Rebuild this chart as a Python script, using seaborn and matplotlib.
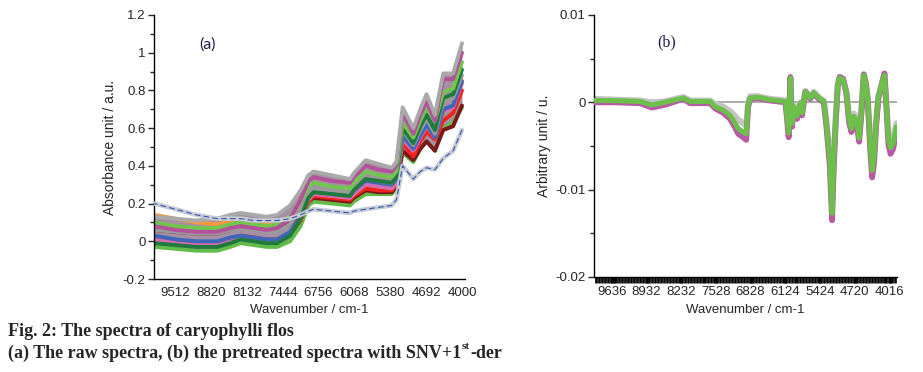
import numpy as np
import pandas as pd
import matplotlib
matplotlib.use("Agg")
import matplotlib.pyplot as plt
import seaborn as sns
from matplotlib.ticker import MultipleLocator

# ---- (a) raw spectra ----
wn_a = [9910, 9500, 9100, 8700, 8450, 8250, 8000, 7750, 7550, 7300, 7100, 6950, 6850, 6500,
        6150, 6080, 5850, 5600, 5350, 5260, 5140, 4935, 4800, 4680, 4520, 4360, 4170, 4000]

grey_top = [0.13, 0.12, 0.11, 0.12, 0.14, 0.15, 0.14, 0.13, 0.14, 0.19, 0.27, 0.35, 0.37, 0.35,
            0.33, 0.36, 0.43, 0.41, 0.39, 0.42, 0.71, 0.60, 0.70, 0.78, 0.67, 0.89, 0.89, 1.05]
orange = [0.14, 0.12, 0.10, 0.09, 0.11, 0.12, 0.11, 0.10, 0.10, 0.13, 0.18, 0.24, 0.26, 0.25,
          0.24, 0.26, 0.30, 0.29, 0.28, 0.31, 0.54, 0.47, 0.55, 0.60, 0.54, 0.69, 0.71, 0.84]
magenta = [0.08, 0.06, 0.05, 0.05, 0.07, 0.08, 0.07, 0.06, 0.07, 0.12, 0.22, 0.32, 0.34, 0.32,
           0.31, 0.34, 0.40, 0.38, 0.37, 0.40, 0.68, 0.57, 0.67, 0.74, 0.64, 0.86, 0.86, 1.00]
green_up = [0.10, 0.08, 0.07, 0.07, 0.09, 0.10, 0.09, 0.08, 0.09, 0.13, 0.21, 0.29, 0.31, 0.29,
            0.28, 0.31, 0.37, 0.35, 0.34, 0.37, 0.63, 0.55, 0.64, 0.71, 0.64, 0.79, 0.81, 0.95]
dark_green = [-0.01, -0.02, -0.03, -0.03, -0.01, 0.01, 0.00, -0.01, -0.01, 0.03, 0.12, 0.23, 0.26, 0.25,
              0.24, 0.27, 0.33, 0.32, 0.31, 0.34, 0.60, 0.52, 0.61, 0.67, 0.59, 0.76, 0.78, 0.91]
grey_mid = [0.06, 0.05, 0.04, 0.04, 0.06, 0.07, 0.06, 0.05, 0.05, 0.09, 0.17, 0.26, 0.28, 0.27,
            0.26, 0.28, 0.34, 0.32, 0.31, 0.34, 0.59, 0.51, 0.59, 0.65, 0.57, 0.74, 0.76, 0.88]
blue = [0.03, 0.01, 0.00, 0.00, 0.02, 0.03, 0.02, 0.01, 0.01, 0.05, 0.13, 0.24, 0.27, 0.26,
        0.25, 0.27, 0.32, 0.31, 0.30, 0.33, 0.56, 0.49, 0.56, 0.62, 0.55, 0.70, 0.72, 0.85]
pink = [0.01, -0.01, -0.02, -0.02, 0.00, 0.02, 0.01, 0.00, 0.00, 0.04, 0.12, 0.22, 0.25, 0.24,
        0.23, 0.25, 0.30, 0.29, 0.28, 0.31, 0.54, 0.48, 0.55, 0.61, 0.55, 0.69, 0.71, 0.84]
red = [0.02, 0.00, -0.01, -0.01, 0.01, 0.03, 0.02, 0.01, 0.01, 0.04, 0.11, 0.21, 0.24, 0.23,
       0.22, 0.24, 0.28, 0.27, 0.27, 0.30, 0.52, 0.45, 0.53, 0.58, 0.54, 0.64, 0.68, 0.80]
maroon = [0.06, 0.05, 0.04, 0.04, 0.06, 0.08, 0.07, 0.06, 0.06, 0.09, 0.15, 0.21, 0.23, 0.22,
          0.21, 0.23, 0.27, 0.26, 0.26, 0.29, 0.48, 0.43, 0.49, 0.53, 0.48, 0.59, 0.61, 0.72]
green_low = [-0.03, -0.04, -0.05, -0.05, -0.03, -0.01, -0.02, -0.03, -0.03, 0.00, 0.08, 0.19, 0.21, 0.20,
             0.19, 0.21, 0.25, 0.25, 0.25, 0.28, 0.47, 0.42, 0.49, 0.53, 0.48, 0.60, 0.63, 0.71]
outlier = [0.20, 0.17, 0.14, 0.12, 0.12, 0.12, 0.11, 0.11, 0.11, 0.12, 0.14, 0.16, 0.17, 0.16,
           0.15, 0.16, 0.17, 0.18, 0.19, 0.22, 0.40, 0.33, 0.37, 0.39, 0.38, 0.44, 0.48, 0.59]

xticks_a = [9512, 8820, 8132, 7444, 6756, 6068, 5380, 4692, 4000]
yticks_a = [-0.2, 0, 0.2, 0.4, 0.6, 0.8, 1.0, 1.2]
ylabels_a = ["-0.2", "0", "0.2", "0.4", "0.6", "0.8", "1", "1.2"]

# ---- (b) SNV + 1st derivative ----
wn_b = [9994, 9567, 9067, 8827, 8567, 8190, 8051, 7646, 7545, 7383, 7241, 7140, 7079, 6978,
        6917, 6877, 6836, 6695, 6432, 6125, 6091, 6058, 6024, 5990, 5957, 5889, 5821, 5788,
        5720, 5619, 5551, 5450, 5349, 5295, 5227, 5180, 5147, 5106, 5065, 5025, 4958, 4890,
        4836, 4789, 4741, 4687, 4633, 4593, 4539, 4499, 4458, 4411, 4370, 4330, 4289, 4242,
        4188, 4121, 4080, 4040, 3999, 3945, 3878]
green_b = [0.0002, 0.0002, 0.0001, -0.0003, 0.0000, 0.0005, 0.0001, 0.0001, -0.0005, -0.0009,
           -0.0015, -0.0024, -0.0030, -0.0034, -0.0036, -0.0003, 0.0005, 0.0006, 0.0003, 0.0001,
           -0.0016, -0.0035, 0.0028, -0.0024, -0.0005, -0.0016, -0.0001, -0.0012, 0.0012, 0.0005,
           0.0011, 0.0005, 0.0001, -0.0024, -0.0066, -0.0127, -0.0070, -0.0020, 0.0020, 0.0028,
           0.0026, 0.0011, -0.0020, -0.0030, -0.0016, -0.0020, -0.0041, -0.0016, 0.0031, 0.0022,
           0.0003, -0.0047, -0.0078, -0.0063, -0.0024, 0.0006, 0.0018, 0.0031, -0.0005, -0.0043,
           -0.0052, -0.0047, -0.0028]
magenta_b = [0.0000, 0.0000, -0.0001, -0.0006, -0.0003, 0.0004, -0.0001, -0.0001, -0.0007, -0.0012,
             -0.0019, -0.0029, -0.0036, -0.0040, -0.0043, -0.0005, 0.0004, 0.0005, 0.0002, 0.0000,
             -0.0019, -0.0040, 0.0029, -0.0028, -0.0007, -0.0019, -0.0003, -0.0015, 0.0012, 0.0004,
             0.0010, 0.0004, 0.0000, -0.0027, -0.0072, -0.0135, -0.0076, -0.0023, 0.0019, 0.0029,
             0.0027, 0.0010, -0.0023, -0.0034, -0.0019, -0.0023, -0.0045, -0.0018, 0.0032, 0.0022,
             0.0001, -0.0052, -0.0086, -0.0069, -0.0027, 0.0005, 0.0017, 0.0033, -0.0007, -0.0048,
             -0.0059, -0.0053, -0.0032]
grey_b = [0.0004, 0.0003, 0.0002, 0.0000, 0.0001, 0.0006, 0.0002, 0.0002, -0.0002, -0.0005,
          -0.0010, -0.0016, -0.0020, -0.0024, -0.0027, 0.0000, 0.0007, 0.0007, 0.0004, 0.0002,
          -0.0013, -0.0030, 0.0027, -0.0020, -0.0003, -0.0013, 0.0000, -0.0009, 0.0013, 0.0006,
          0.0012, 0.0006, 0.0002, -0.0021, -0.0060, -0.0120, -0.0064, -0.0017, 0.0021, 0.0029,
          0.0027, 0.0012, -0.0017, -0.0026, -0.0013, -0.0017, -0.0037, -0.0013, 0.0032, 0.0023,
          0.0005, -0.0042, -0.0072, -0.0057, -0.0020, 0.0008, 0.0019, 0.0033, -0.0002, -0.0038,
          -0.0046, -0.0042, -0.0024]

xticks_b = [9636, 8932, 8232, 7528, 6828, 6124, 5424, 4720, 4016]
yticks_b = [-0.02, -0.01, 0, 0.01]
ylabels_b = ["-0.02", "-0.01", "0", "0.01"]

sns.set_style("white")
plt.rcParams["font.family"] = ["Liberation Sans", "DejaVu Sans"]
plt.rcParams["axes.unicode_minus"] = False
tick_font = ["Liberation Sans Narrow", "Liberation Sans"]

fig = plt.figure(figsize=(9.23, 3.72), dpi=100)
ax1 = fig.add_axes([0.1668, 0.25, 0.337, 0.7097])
ax2 = fig.add_axes([0.6436, 0.2554, 0.3283, 0.7043])

# panel (a)
ax1.fill_between(wn_a, green_low, grey_top, color="#a58fa3", lw=0, zorder=1)
series_a = [
    (green_low, "#62bd48"), (orange, "#f39a3e"), (maroon, "#7a1718"), (red, "#f4231c"),
    (pink, "#d36db3"), (blue, "#3f66b9"), (grey_mid, "#9a9a9a"), (dark_green, "#1f7b3d"),
    (green_up, "#72c64e"), (magenta, "#b3519b"), (grey_top, "#a9a9a9"),
]
for vals, col in series_a:
    sns.lineplot(x=wn_a, y=vals, ax=ax1, color=col, lw=2.8, zorder=2)
sns.lineplot(x=wn_a, y=outlier, ax=ax1, color="#c6ccd6", lw=3.2, zorder=3)
sns.lineplot(x=wn_a, y=outlier, ax=ax1, color="#3553a8", lw=0.8, ls=(0, (5, 3)), zorder=4)

ax1.set_xlim(9915, 3942)
ax1.set_ylim(-0.2, 1.2)
ax1.set_xticks(xticks_a)
ax1.set_xticklabels([str(t) for t in xticks_a], family=tick_font)
ax1.set_yticks(yticks_a)
ax1.set_yticklabels(ylabels_a, family=tick_font)
ax1.yaxis.set_minor_locator(MultipleLocator(0.1))
ax1.tick_params(axis="x", length=0, pad=6, labelsize=9.5)
ax1.tick_params(axis="y", which="major", direction="out", length=4, width=1, left=True, labelsize=9.5, pad=2)
ax1.tick_params(axis="y", which="minor", direction="out", length=3, width=1, left=True)
ax1.set_xlabel("Wavenumber / cm-1", fontsize=9.5)
ax1.set_ylabel("Absorbance unit / a.u.", fontsize=10)
ax1.xaxis.set_label_coords(0.5, -0.095)
ax1.yaxis.set_label_coords(-0.119, 0.5)

# panel (b)
ax2.axhline(0, color="#9c9c9c", lw=1.2, zorder=1)
sns.lineplot(x=wn_b, y=grey_b, ax=ax2, color="#c4c4c4", lw=4.4, zorder=2)
sns.lineplot(x=wn_b, y=magenta_b, ax=ax2, color="#b75aa6", lw=4.2, zorder=3)
sns.lineplot(x=wn_b, y=green_b, ax=ax2, color="#6cc04a", lw=3.6, zorder=4)

ax2.set_xlim(9994, 3866)
ax2.set_ylim(-0.02, 0.01)
ax2.set_xticks(xticks_b)
ax2.set_xticklabels([str(t) for t in xticks_b], family=tick_font)
ax2.xaxis.set_minor_locator(MultipleLocator(60))
ax2.set_yticks(yticks_b)
ax2.set_yticklabels(ylabels_b, family=tick_font)
ax2.yaxis.set_minor_locator(MultipleLocator(0.005))
ax2.tick_params(axis="x", which="both", direction="out", length=4, width=1.9, bottom=True,
                labelsize=9.5, pad=2.5, color="black")
ax2.tick_params(axis="y", which="major", direction="out", length=4, width=1, left=True, labelsize=9.5, pad=2)
ax2.tick_params(axis="y", which="minor", direction="out", length=3, width=1, left=True)
ax2.set_xlabel("Wavenumber / cm-1", fontsize=9.5)
ax2.set_ylabel("Arbitrary unit / u.", fontsize=10)
ax2.xaxis.set_label_coords(0.5, -0.103)
ax2.yaxis.set_label_coords(-0.142, 0.5)

for ax in (ax1, ax2):
    sns.despine(ax=ax)
    for s in ("left", "bottom"):
        ax.spines[s].set_color("black")
        ax.spines[s].set_linewidth(1.0)

fig.text(207 / 923, 1 - 45 / 372, "(a)", ha="center", va="center", fontsize=11.5,
         family=["Lato", "DejaVu Sans"], color="#1c1c4a")
fig.text(667 / 923, 1 - 42 / 372, "(b)", ha="center", va="center", fontsize=11.5,
         family=["Liberation Serif"], color="#1c1c4a")

# caption
cap = dict(family=["Liberation Serif"], weight="bold", fontsize=13, va="center")
fig.text(8 / 923, 1 - 331 / 372, "Fig. 2: The spectra of caryophylli flos", **cap)
t2 = fig.text(8 / 923, 1 - 353 / 372, "(a) The raw spectra, (b) the pretreated spectra with SNV+1", **cap)
t3 = ax1.annotate("st", xy=(1, 0.6), xycoords=t2, xytext=(0.5, 0), textcoords="offset points",
                  fontsize=8, family=["Liberation Serif"], weight="bold", va="bottom", ha="left",
                  annotation_clip=False)
ax1.annotate("-der", xy=(1, 0), xycoords=(t3, t2), xytext=(0.5, 0), textcoords="offset points",
             fontsize=13, family=["Liberation Serif"], weight="bold", va="bottom", ha="left",
             annotation_clip=False)

fig.savefig("out.png", dpi=100)
